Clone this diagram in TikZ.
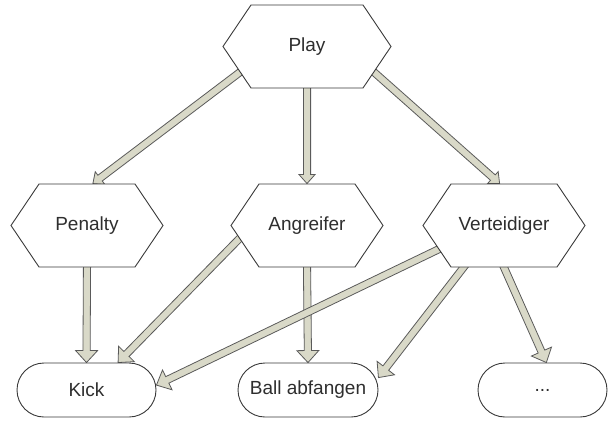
\documentclass[tikz,border=0pt]{standalone}
\usepackage{fontspec}
\setmainfont{Liberation Sans}
\usetikzlibrary{shapes.symbols,calc,backgrounds}
\definecolor{nodeborder}{HTML}{3A3A3A}
\definecolor{nodetext}{HTML}{2E2E2E}
\definecolor{arrowfill}{HTML}{D9D9C8}
\definecolor{arrowborder}{HTML}{5A5A5A}

% hollow block arrow: #1 -> #2, head half width #3, head length #4
\newcommand{\blockarrow}[4]{%
  \path let \p1=($(#2)-(#1)$) in \pgfextra{%
    \pgfmathparse{atan2(\y1,\x1)}\xdef\arrowang{\pgfmathresult}%
    \pgfmathparse{veclen(\x1,\y1)}\xdef\arrowlen{\pgfmathresult}};
  \begin{scope}[shift={(#1)}, rotate=\arrowang]
    \draw[blockarrow] (-6,-3.6) -- (\arrowlen-#4,-3.6) -- (\arrowlen-#4,-#3)
      -- (\arrowlen,0) -- (\arrowlen-#4,#3) -- (\arrowlen-#4,3.6) -- (-6,3.6) -- cycle;
  \end{scope}}

\begin{document}
\begin{tikzpicture}[
  x=1pt, y=-1pt,
  font=\fontsize{19}{22}\selectfont,
  hexbox/.style={
    signal,
    signal to=west and east,
    signal pointer angle=112,
    draw=nodeborder,
    fill=white,
    line width=0.9pt,
    text=nodetext,
    inner sep=2pt,
    minimum height=83
  },
  roundbox/.style={
    rectangle,
    rounded corners=27pt,
    draw=nodeborder,
    fill=white,
    line width=0.9pt,
    text=nodetext,
    inner sep=2pt,
    minimum height=54
  },
  blockarrow/.style={
    draw=arrowborder,
    fill=arrowfill,
    line width=0.8pt,
    line join=miter
  }
]
  \useasboundingbox (0,0) rectangle (609,422);

  % --- TOP: play ---
  \node[hexbox, minimum width=168] (play) at (307,46.5) {Play};

  % --- MIDDLE ROW: roles ---
  \node[hexbox, minimum width=152] (penalty) at (87,225.5) {Penalty};
  \node[hexbox, minimum width=152] (angreifer) at (307,225.5) {Angreifer};
  \node[hexbox, minimum width=162] (verteidiger) at (504,225.5) {Verteidiger};

  % --- LOWER ROW: skills ---
  \node[roundbox, minimum width=139] (kick) at (86.5,390) {Kick};
  \node[roundbox, minimum width=140] (ball) at (308,390) {Ball abfangen};
  \node[roundbox, minimum width=129] (dots) at (542.5,390) {...};

  % Arrows behind the boxes
  \begin{scope}[on background layer]
    \blockarrow{play.201}{penalty.82}{8}{9}
    \blockarrow{play.south}{angreifer.north}{8}{9}
    \blockarrow{play.-21}{verteidiger.96}{8}{9}

    \blockarrow{penalty.south}{kick.north}{11}{12}
    \blockarrow{angreifer.191}{kick.41}{11}{12}
    \blockarrow{angreifer.south}{ball.north}{11}{12}
    \blockarrow{verteidiger.200}{kick.4}{11}{12}
    \blockarrow{verteidiger.226}{ball.10}{11}{12}
    \blockarrow{verteidiger.south}{dots.82}{11}{12}
  \end{scope}

\end{tikzpicture}
\end{document}
